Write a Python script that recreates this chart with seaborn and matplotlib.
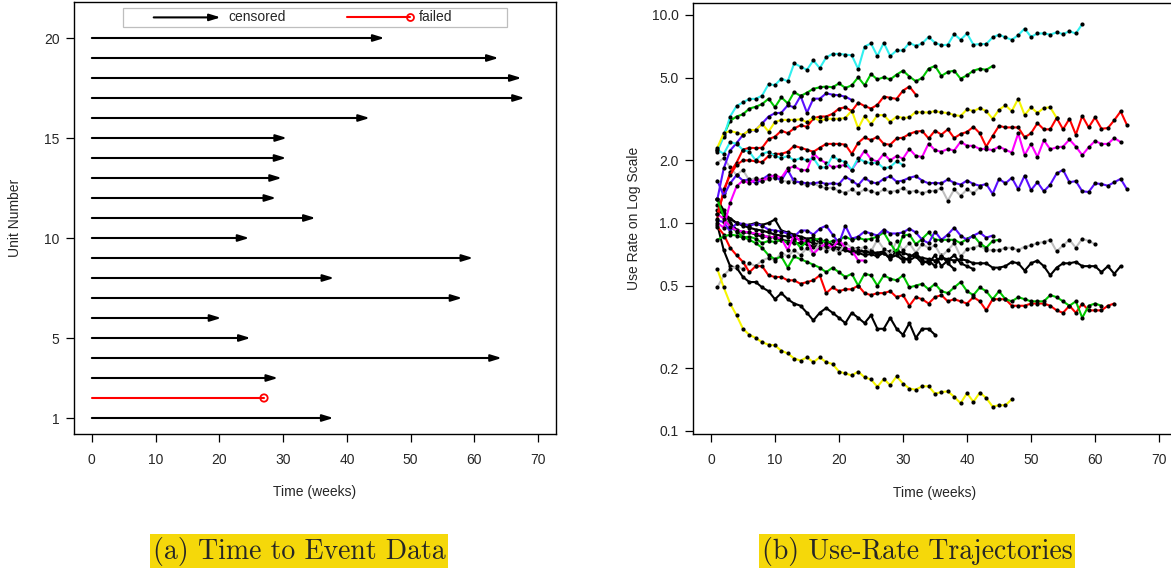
import numpy as np
import pandas as pd
import matplotlib
matplotlib.use("Agg")
import matplotlib.pyplot as plt
from matplotlib.patches import Rectangle
import seaborn as sns

# ---- (a) time to event data ----
units = list(range(1, 21))
end_time = [37.9, 27.0, 29.2, 64.3, 24.9, 20.3, 58.1, 38.0, 59.8, 24.7,
            35.1, 28.9, 29.8, 30.5, 30.6, 43.6, 67.9, 67.4, 63.8, 45.9]
status = ["censored", "failed"] + ["censored"] * 18

# ---- (b) use-rate trajectories (weekly values, week 1 onwards) ----
cyan_top = [2.2, 2.6, 3.25, 3.65, 3.8, 3.95, 3.95, 4.1, 4.65, 4.6,
            4.95, 4.8, 5.85, 5.65, 5.45, 6.05, 5.55, 6.25, 6.5, 6.5,
            6.45, 6.4, 5.5, 7.05, 7.3, 6.35, 7.35, 6.35, 6.75, 6.75,
            7.35, 7.1, 7.3, 7.85, 7.35, 7.15, 7.2, 8.1, 7.6, 8.15,
            7.2, 7.25, 7.25, 7.8, 8.05, 7.8, 7.6, 8.0, 8.6, 7.85,
            8.15, 8.15, 8.05, 8.25, 8.1, 8.35, 8.15, 9.05]
green_top = [2.25, 2.65, 3.1, 3.25, 3.33, 3.55, 3.62, 3.73, 3.96, 3.6,
             4.02, 3.76, 4.26, 4.08, 4.23, 4.42, 4.49, 4.53, 4.49, 4.69,
             4.46, 4.59, 5.02, 4.59, 5.2, 4.9, 5.02, 4.9, 5.17, 5.4,
             5.06, 4.8, 4.98, 5.52, 5.69, 5.1, 5.32, 5.4, 4.94, 5.13,
             5.4, 5.52, 5.45, 5.69]
purple_up = [1.3, 1.83, 2.23, 2.42, 2.65, 2.78, 2.8, 3.01, 3.25, 3.37,
             3.39, 3.68, 3.6, 4.08, 3.39, 3.96, 3.96, 4.2, 4.14, 4.11,
             4.05, 3.9]
red_up = [1.1, 1.4, 1.75, 1.95, 2.25, 2.3, 2.29, 2.3, 2.53, 2.6,
          2.78, 2.7, 2.85, 2.95, 2.9, 3.18, 3.25, 3.25, 3.35, 3.55,
          3.6, 3.45, 3.79, 3.65, 3.55, 3.7, 4.05, 4.0, 3.95, 4.33,
          4.53, 4.14]
yellow_up = [2.3, 2.7, 2.77, 2.72, 2.65, 2.8, 2.8, 3.0, 2.75, 3.06,
             3.13, 3.13, 3.13, 3.15, 3.05, 3.22, 3.1, 3.17, 3.17, 3.17,
             3.2, 3.47, 2.85, 3.27, 2.98, 3.3, 3.3, 3.06, 3.25, 3.2,
             3.22, 3.42, 3.4, 3.4, 3.45, 3.4, 3.38, 3.3, 3.27, 3.52,
             3.45, 3.57, 3.45, 3.17, 3.5, 3.68, 3.45, 3.96, 3.3, 3.6,
             3.38, 3.57, 3.6, 3.2]
red_mid = [1.05, 1.45, 1.7, 1.9, 2.0, 2.0, 1.98, 1.96, 2.1, 2.15,
           2.15, 2.2, 2.35, 2.3, 2.25, 2.2, 2.3, 2.4, 2.4, 2.4,
           2.38, 2.15, 2.43, 2.58, 2.5, 2.6, 2.4, 2.38, 2.55, 2.57,
           2.68, 2.75, 2.77, 2.55, 2.78, 2.66, 2.82, 2.56, 2.68, 2.74,
           2.9, 2.7, 2.33, 2.62, 2.93, 2.88, 2.88, 2.88, 2.58, 2.7,
           3.02, 2.82, 2.82, 3.2, 2.82, 3.17, 2.66, 3.27, 2.88, 3.22,
           2.84, 2.86, 3.12, 3.44, 2.95]
magenta_up = [1.0, 0.95, 1.25, 1.5, 1.6, 1.55, 1.62, 1.6, 1.65, 1.7,
              1.65, 1.83, 1.87, 1.8, 1.79, 2.16, 2.02, 1.94, 1.85, 1.88,
              1.9, 1.8, 2.0, 2.23, 2.03, 1.97, 2.15, 2.0, 2.1, 2.04,
              2.27, 2.1, 2.08, 2.41, 2.24, 2.2, 2.27, 2.23, 2.46, 2.35,
              2.35, 2.27, 2.27, 2.24, 2.33, 2.25, 2.18, 2.7, 2.12, 2.4,
              2.08, 2.5, 2.26, 2.31, 2.33, 2.52, 2.33, 2.12, 2.31, 2.48,
              2.4, 2.4, 2.56, 2.45]
cyan_low = [2.25, 2.15, 2.45, 2.4, 2.25, 2.2, 2.0, 2.15, 2.2, 2.1,
            2.05, 2.1, 2.0, 2.05, 2.0, 2.05, 1.85, 1.85, 2.1, 2.0,
            1.97, 1.8, 2.05, 1.97, 1.94, 1.95, 1.83, 1.86, 1.98, 1.9]
purple_mid = [1.6, 1.35, 1.55, 1.7, 1.6, 1.62, 1.55, 1.62, 1.7, 1.67,
              1.6, 1.8, 1.58, 1.57, 1.55, 1.55, 1.57, 1.54, 1.55, 1.54,
              1.67, 1.6, 1.52, 1.65, 1.57, 1.55, 1.63, 1.68, 1.58, 1.6,
              1.65, 1.68, 1.6, 1.55, 1.56, 1.55, 1.62, 1.56, 1.53, 1.6,
              1.54, 1.51, 1.54, 1.38, 1.63, 1.55, 1.65, 1.45, 1.69, 1.44,
              1.57, 1.42, 1.53, 1.73, 1.8, 1.57, 1.59, 1.42, 1.41, 1.55,
              1.54, 1.51, 1.57, 1.63, 1.45]
gray_up = [1.95, 2.05, 1.85, 1.7, 1.8, 1.6, 1.65, 1.6, 1.62, 1.65,
           1.6, 1.58, 1.62, 1.55, 1.52, 1.55, 1.5, 1.47, 1.48, 1.42,
           1.4, 1.45, 1.39, 1.45, 1.42, 1.39, 1.45, 1.41, 1.43, 1.47,
           1.41, 1.43, 1.39, 1.42, 1.43, 1.47, 1.28, 1.45, 1.35, 1.45,
           1.39, 1.49]
purple_low = [1.03, 1.01, 0.91, 1.0, 0.99, 0.97, 0.99, 0.97, 0.93, 0.92,
              0.91, 0.89, 0.86, 0.92, 0.92, 0.88, 0.94, 0.97, 0.88, 0.8,
              0.97, 0.84, 0.86, 0.91, 0.89, 0.87, 0.93, 0.89, 0.89, 0.9,
              0.94, 0.9, 0.83, 0.8, 0.91, 0.83, 0.88, 0.95, 0.87, 0.83,
              0.87, 0.9, 0.85, 0.87]
green_mid = [0.83, 0.86, 0.88, 0.87, 0.85, 0.86, 0.84, 0.8, 0.82, 0.81,
             0.83, 0.8, 0.83, 0.76, 0.82, 0.83, 0.84, 0.8, 0.82, 0.83,
             0.86, 0.83, 0.85, 0.83, 0.84, 0.86, 0.9, 0.8, 0.72, 0.87,
             0.88, 0.79, 0.84, 0.9, 0.83, 0.83, 0.83, 0.83, 0.8, 0.84,
             0.87, 0.8, 0.76, 0.82, 0.83]
gray_low = [0.49, 0.56, 0.6, 0.62, 0.6, 0.64, 0.62, 0.66, 0.68, 0.66,
            0.72, 0.69, 0.74, 0.7, 0.76, 0.71, 0.81, 0.73, 0.76, 0.72,
            0.8, 0.76, 0.74, 0.77, 0.73, 0.83, 0.75, 0.7, 0.82, 0.74,
            0.8, 0.72, 0.79, 0.76, 0.78, 0.69, 0.74, 0.8, 0.69, 0.75,
            0.76, 0.78, 0.74, 0.74, 0.74, 0.76, 0.76, 0.74, 0.77, 0.78,
            0.8, 0.81, 0.83, 0.73, 0.78, 0.83, 0.76, 0.84, 0.82, 0.79]
black_a = [1.22, 1.12, 1.05, 1.0, 0.97, 0.95, 0.93, 0.92, 0.9, 0.88,
           0.87, 0.86, 0.85, 0.83, 0.82, 0.8, 0.79, 0.78, 0.77, 0.76,
           0.75, 0.74, 0.73, 0.73, 0.72, 0.72, 0.73, 0.73, 0.73, 0.72,
           0.7, 0.69, 0.68, 0.67, 0.66, 0.68, 0.67, 0.66, 0.67, 0.66,
           0.64, 0.64, 0.64, 0.61, 0.61, 0.62, 0.65, 0.64, 0.59, 0.64,
           0.66, 0.62, 0.56, 0.61, 0.64, 0.64, 0.65, 0.62, 0.62, 0.62,
           0.58, 0.62, 0.57, 0.62]
black_b = [1.15, 1.1, 1.05, 1.0, 0.98, 0.98, 1.0, 0.98, 1.0, 1.04,
           0.92, 0.9, 0.88, 0.86, 0.84, 0.85, 0.8, 0.83, 0.78, 0.8,
           0.75, 0.74, 0.76, 0.72, 0.74, 0.7, 0.72, 0.68, 0.7, 0.66,
           0.68, 0.72, 0.66, 0.64, 0.7, 0.62, 0.66, 0.7, 0.64, 0.62,
           0.6]
black_c = [1.3, 1.15, 1.0, 0.93, 0.9, 0.9, 0.88, 0.86, 0.86, 0.85,
           0.83, 0.82, 0.8, 0.8, 0.79, 0.77, 0.78, 0.76, 0.75, 0.74,
           0.74, 0.72, 0.72, 0.7, 0.71, 0.69, 0.72, 0.67, 0.74, 0.68,
           0.66, 0.69, 0.64, 0.66, 0.62, 0.7, 0.64, 0.6]
black_d = [0.98, 0.74, 0.62, 0.61, 0.55, 0.52, 0.52, 0.49, 0.47, 0.43,
           0.46, 0.43, 0.41, 0.4, 0.37, 0.34, 0.37, 0.39, 0.37, 0.35,
           0.33, 0.37, 0.35, 0.33, 0.36, 0.31, 0.31, 0.35, 0.31, 0.29,
           0.33, 0.28, 0.31, 0.31, 0.29]
red_low = [0.96, 0.88, 0.76, 0.7, 0.65, 0.58, 0.62, 0.62, 0.56, 0.55,
           0.55, 0.53, 0.53, 0.51, 0.52, 0.53, 0.56, 0.46, 0.49, 0.47,
           0.48, 0.48, 0.5, 0.46, 0.45, 0.46, 0.46, 0.47, 0.44, 0.45,
           0.4, 0.44, 0.43, 0.41, 0.44, 0.45, 0.42, 0.43, 0.42, 0.41,
           0.44, 0.42, 0.38, 0.43, 0.43, 0.43, 0.4, 0.4, 0.4, 0.41,
           0.41, 0.41, 0.4, 0.38, 0.37, 0.4, 0.37, 0.41, 0.38, 0.38,
           0.38, 0.4, 0.41]
green_low = [1.3, 1.07, 0.96, 0.91, 0.86, 0.83, 0.8, 0.76, 0.7, 0.67,
             0.69, 0.61, 0.69, 0.67, 0.65, 0.63, 0.61, 0.58, 0.61, 0.58,
             0.55, 0.57, 0.5, 0.57, 0.56, 0.5, 0.56, 0.54, 0.53, 0.56,
             0.49, 0.5, 0.51, 0.48, 0.51, 0.47, 0.46, 0.49, 0.52, 0.47,
             0.45, 0.49, 0.47, 0.43, 0.47, 0.43, 0.42, 0.44, 0.43, 0.42,
             0.42, 0.42, 0.45, 0.44, 0.42, 0.4, 0.42, 0.35, 0.4, 0.41,
             0.4]
magenta_low = [1.1, 1.05, 0.96, 0.92, 0.91, 0.9, 0.89, 0.88, 0.85, 0.86,
               0.84, 0.74, 0.88, 0.81, 0.83, 0.71, 0.76, 0.8, 0.76, 0.83,
               0.76, 0.74, 0.66, 0.66]
yellow_low = [0.6, 0.49, 0.41, 0.36, 0.31, 0.29, 0.28, 0.267, 0.26, 0.258,
              0.243, 0.236, 0.223, 0.218, 0.226, 0.214, 0.226, 0.214, 0.21, 0.193,
              0.189, 0.185, 0.193, 0.181, 0.177, 0.163, 0.178, 0.166, 0.183, 0.169,
              0.16, 0.158, 0.164, 0.164, 0.151, 0.154, 0.155, 0.146, 0.136, 0.152,
              0.138, 0.153, 0.144, 0.131, 0.133, 0.133, 0.142]

trajectories = {
    "black_a": black_a, "black_b": black_b, "black_c": black_c, "black_d": black_d,
    "gray_up": gray_up, "gray_low": gray_low,
    "red_up": red_up, "red_mid": red_mid, "red_low": red_low,
    "green_top": green_top, "green_mid": green_mid, "green_low": green_low,
    "purple_up": purple_up, "purple_mid": purple_mid, "purple_low": purple_low,
    "magenta_up": magenta_up, "magenta_low": magenta_low,
    "cyan_top": cyan_top, "cyan_low": cyan_low,
    "yellow_up": yellow_up, "yellow_low": yellow_low,
}

base_colors = {"black": "black", "gray": "#BEBEBE", "red": "#FF0000",
               "green": "#00C800", "purple": "#5A0FFF", "magenta": "#FF00FF",
               "cyan": "#30F0F0", "yellow": "#F5F500"}
palette = {name: base_colors[name.split("_")[0]] for name in trajectories}

rows = []
for name, vals in trajectories.items():
    for i, v in enumerate(vals):
        rows.append((name, i + 1, v))
df = pd.DataFrame(rows, columns=["unit", "week", "rate"])

sns.set_style("ticks")
plt.rcParams["font.family"] = ["Liberation Sans", "DejaVu Sans"]
plt.rcParams["axes.linewidth"] = 1.0

W, H = 1171, 569
fig = plt.figure(figsize=(W / 100, H / 100), dpi=100)
ax1 = fig.add_axes([74 / W, 1 - 434 / H, 482 / W, 432 / H])
ax2 = fig.add_axes([693 / W, 1 - 434 / H, 484 / W, 431 / H])

tick_kw = dict(direction="out", length=5.5, width=0.9, labelsize=10, color="black")
arrow_style = "-|>,head_length=0.65,head_width=0.2"

# ---------- left panel ----------
for u, t, s in zip(units, end_time, status):
    if s == "censored":
        ax1.annotate("", xy=(t, u), xytext=(0, u),
                     arrowprops=dict(arrowstyle=arrow_style, color="black",
                                     lw=1.5, shrinkA=0, shrinkB=0))
fail = pd.DataFrame({"unit": [u for u, s in zip(units, status) if s == "failed"],
                     "time": [t for t, s in zip(end_time, status) if s == "failed"]})
for _, r in fail.iterrows():
    ax1.plot([0, r["time"]], [r["unit"], r["unit"]], color="red", lw=1.5)
sns.scatterplot(data=fail, x="time", y="unit", ax=ax1, marker="o", s=28,
                facecolor="none", edgecolor="red", linewidth=1.3, zorder=5)

# legend box
ax1.add_patch(Rectangle((4.9, 20.55), 60.2, 0.95, facecolor="white",
                        edgecolor="#BEBEBE", lw=0.9, zorder=4))
ax1.annotate("", xy=(20.2, 21.03), xytext=(9.7, 21.03), zorder=5,
             arrowprops=dict(arrowstyle=arrow_style, color="black",
                             lw=1.5, shrinkA=0, shrinkB=0))
ax1.text(21.4, 21.03, "censored", va="center", ha="left", fontsize=10, zorder=5)
ax1.plot([40, 49.9], [21.03, 21.03], color="red", lw=1.5, zorder=5)
ax1.plot([49.9], [21.03], marker="o", ms=5, mfc="none", mec="red", mew=1.3, zorder=6)
ax1.text(51.3, 21.03, "failed", va="center", ha="left", fontsize=10, zorder=5)

ax1.set_xlim(-2.8, 72.8)
ax1.set_ylim(0.2, 21.8)
ax1.set_xticks(range(0, 71, 10))
ax1.set_yticks([1, 5, 10, 15, 20])
ax1.set_xlabel("Time (weeks)", fontsize=10)
ax1.set_ylabel("Unit Number", fontsize=10)
ax1.tick_params(axis="x", pad=8, **tick_kw)
ax1.tick_params(axis="y", pad=5, **tick_kw)
ax1.xaxis.set_label_coords(0.5, -0.118)
ax1.yaxis.set_label_coords(-0.107, 0.5)

# ---------- right panel ----------
sns.lineplot(data=df, x="week", y="rate", hue="unit", palette=palette,
             estimator=None, sort=True, legend=False, ax=ax2, lw=1.5,
             marker="o", markersize=3.0, markerfacecolor="black",
             markeredgecolor="black", markeredgewidth=0)
ax2.set_yscale("log")
ax2.set_xlim(-2.8, 72.8)
ax2.set_ylim(0.0967, 11.42)
ax2.set_xticks(range(0, 71, 10))
yt = [0.1, 0.2, 0.5, 1.0, 2.0, 5.0, 10.0]
ax2.set_yticks(yt)
ax2.set_yticklabels([f"{v:.1f}" for v in yt])
ax2.minorticks_off()
ax2.set_xlabel("Time (weeks)", fontsize=10)
ax2.set_ylabel("Use Rate on Log Scale", fontsize=10)
ax2.tick_params(axis="x", pad=8, **tick_kw)
ax2.tick_params(axis="y", pad=5, **tick_kw)
ax2.xaxis.set_label_coords(0.5, -0.12)
ax2.yaxis.set_label_coords(-0.107, 0.5)

for ax in (ax1, ax2):
    for sp in ax.spines.values():
        sp.set_visible(True)
        sp.set_color("black")

# captions
hl = dict(boxstyle="square,pad=0.08", facecolor="#F5D80A", edgecolor="none")
fig.text(299 / W, 1 - 551 / H, "(a) Time to Event Data", family="cmr10",
         fontsize=20, ha="center", va="center", bbox=hl)
fig.text(917 / W, 1 - 551 / H, "(b) Use-Rate Trajectories", family="cmr10",
         fontsize=20, ha="center", va="center", bbox=hl)

fig.savefig("out.png", dpi=100)
